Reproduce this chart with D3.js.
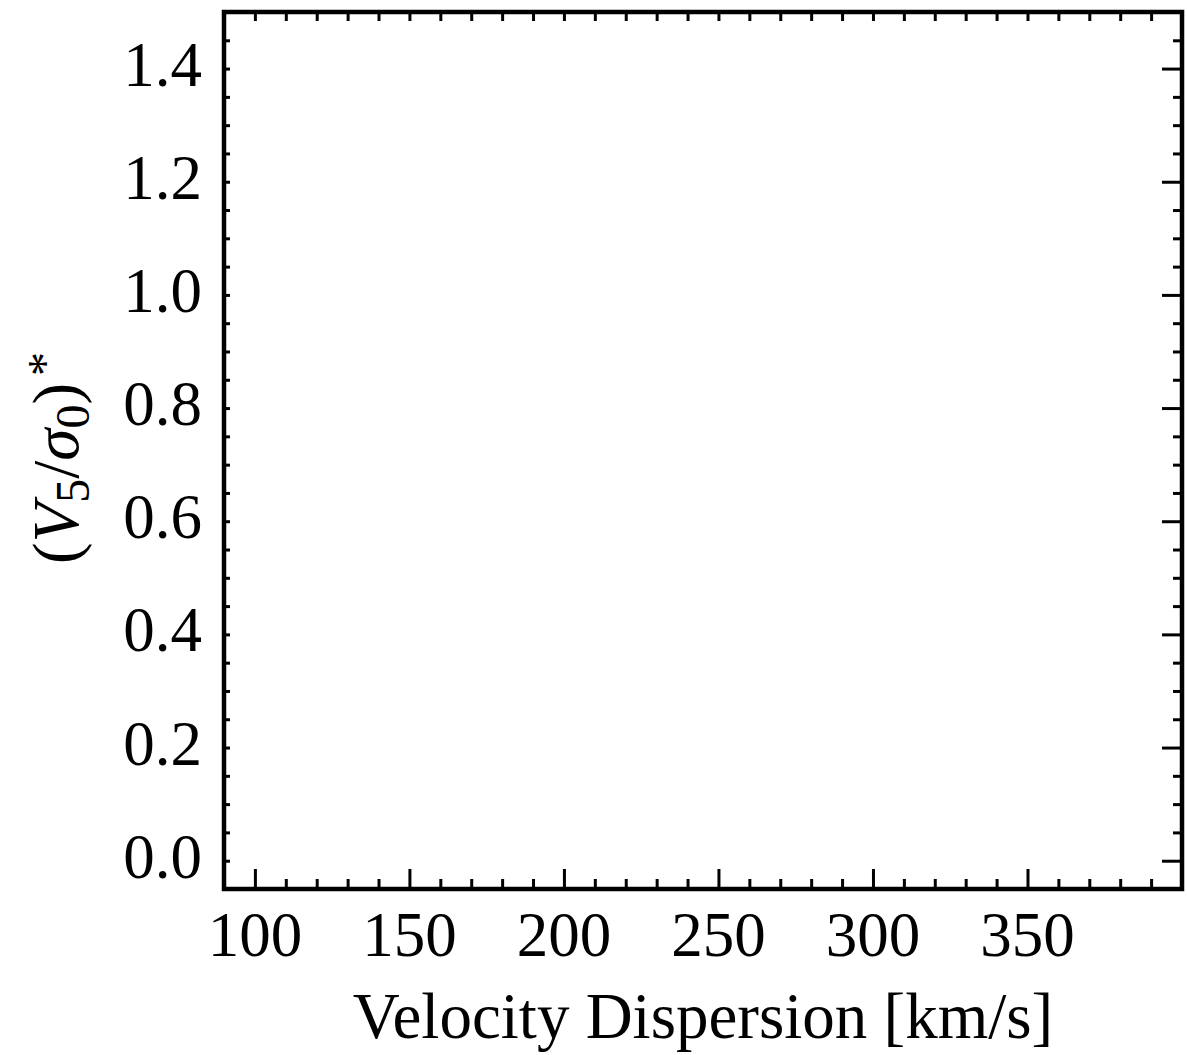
<!DOCTYPE html>
<html>
<head>
<meta charset="utf-8">
<script src="https://cdn.jsdelivr.net/npm/d3@7"></script>
<style>
  html, body { margin: 0; padding: 0; background: #fff; }
  svg { display: block; }
  text { font-family: "Liberation Serif", "Times New Roman", serif; fill: #000; }
</style>
</head>
<body>
<svg id="chart" width="1187" height="1055"></svg>
<script>
// Axis ranges and tick values
const xDomain = [90, 400];
const yDomain = [-0.05, 1.5];
const xMajorTicks = [100, 150, 200, 250, 300, 350];
const xMinorTicks = [100, 110, 120, 130, 140, 150, 160, 170, 180, 190, 200, 210, 220, 230, 240, 250,
                     260, 270, 280, 290, 300, 310, 320, 330, 340, 350, 360, 370, 380, 390];
const yMajorTicks = [0.0, 0.2, 0.4, 0.6, 0.8, 1.0, 1.2, 1.4];
const yMinorTicks = [0.0, 0.05, 0.1, 0.15, 0.2, 0.25, 0.3, 0.35, 0.4, 0.45, 0.5, 0.55, 0.6, 0.65, 0.7,
                     0.75, 0.8, 0.85, 0.9, 0.95, 1.0, 1.05, 1.1, 1.15, 1.2, 1.25, 1.3, 1.35, 1.4, 1.45];
const xTitle = "Velocity Dispersion [km/s]";
// Plotted series (no points in this panel)
const points = [];

const svg = d3.select("#chart");
const frame = { left: 224, right: 1182, top: 12, bottom: 889 };
const tickFont = 63;
const titleFont = 65;

const x = d3.scaleLinear().domain(xDomain).range([frame.left, frame.right]);
const y = d3.scaleLinear().domain(yDomain).range([frame.bottom, frame.top]);

function tickAxis(axisFn, scale, values, size, translate) {
  const g = svg.append("g")
    .attr("transform", translate)
    .call(axisFn(scale).tickValues(values).tickSize(-size).tickFormat(""));
  g.select(".domain").remove();
  g.selectAll(".tick line").attr("stroke", "#000").attr("stroke-width", 3);
  return g;
}

// Bottom: long major ticks, shorter minor ticks
tickAxis(d3.axisBottom, x, xMinorTicks.filter(v => !xMajorTicks.includes(v)), 10, `translate(0,${frame.bottom})`);
tickAxis(d3.axisBottom, x, xMajorTicks, 20, `translate(0,${frame.bottom})`);
// Top: short ticks every 10
tickAxis(d3.axisTop, x, xMinorTicks, 9, `translate(0,${frame.top})`);
// Left: short ticks every 0.05
tickAxis(d3.axisLeft, y, yMinorTicks, 6, `translate(${frame.left},0)`);
// Right: long major ticks, shorter minor ticks
tickAxis(d3.axisRight, y, yMinorTicks.filter(v => !yMajorTicks.some(m => Math.abs(m - v) < 1e-9)), 9, `translate(${frame.right},0)`);
tickAxis(d3.axisRight, y, yMajorTicks, 20, `translate(${frame.right},0)`);

// Frame
svg.append("rect")
  .attr("x", frame.left).attr("y", frame.top)
  .attr("width", frame.right - frame.left).attr("height", frame.bottom - frame.top)
  .attr("fill", "none").attr("stroke", "#000").attr("stroke-width", 4.5);

// Data points
svg.append("g").selectAll("circle").data(points).join("circle")
  .attr("cx", d => x(d[0])).attr("cy", d => y(d[1])).attr("r", 5).attr("fill", "#000");

// Tick labels
svg.append("g").selectAll("text").data(xMajorTicks).join("text")
  .attr("x", d => x(d)).attr("y", 956)
  .attr("text-anchor", "middle").attr("font-size", tickFont)
  .text(d => d3.format("d")(d));

svg.append("g").selectAll("text").data(yMajorTicks).join("text")
  .attr("x", 202).attr("y", d => y(d) + 17)
  .attr("text-anchor", "end").attr("font-size", tickFont)
  .text(d => d3.format(".1f")(d));

// Axis titles
svg.append("text")
  .attr("x", (frame.left + frame.right) / 2).attr("y", 1038)
  .attr("text-anchor", "middle").attr("font-size", titleFont)
  .text(xTitle);

const yt = svg.append("text")
  .attr("transform", "translate(78,458) rotate(-90)")
  .attr("text-anchor", "middle").attr("font-size", titleFont);
yt.append("tspan").text("(");
yt.append("tspan").attr("font-style", "italic").text("V");
yt.append("tspan").attr("font-size", 48).attr("dy", 11).text("5");
yt.append("tspan").attr("dy", -11).text("/");
yt.append("tspan").attr("font-style", "italic").text("σ");
yt.append("tspan").attr("font-size", 48).attr("dy", 11).text("0");
yt.append("tspan").attr("dy", -11).text(")");
yt.append("tspan").attr("font-size", 48).attr("dy", -17).attr("dx", 7).text("*");
</script>
</body>
</html>
